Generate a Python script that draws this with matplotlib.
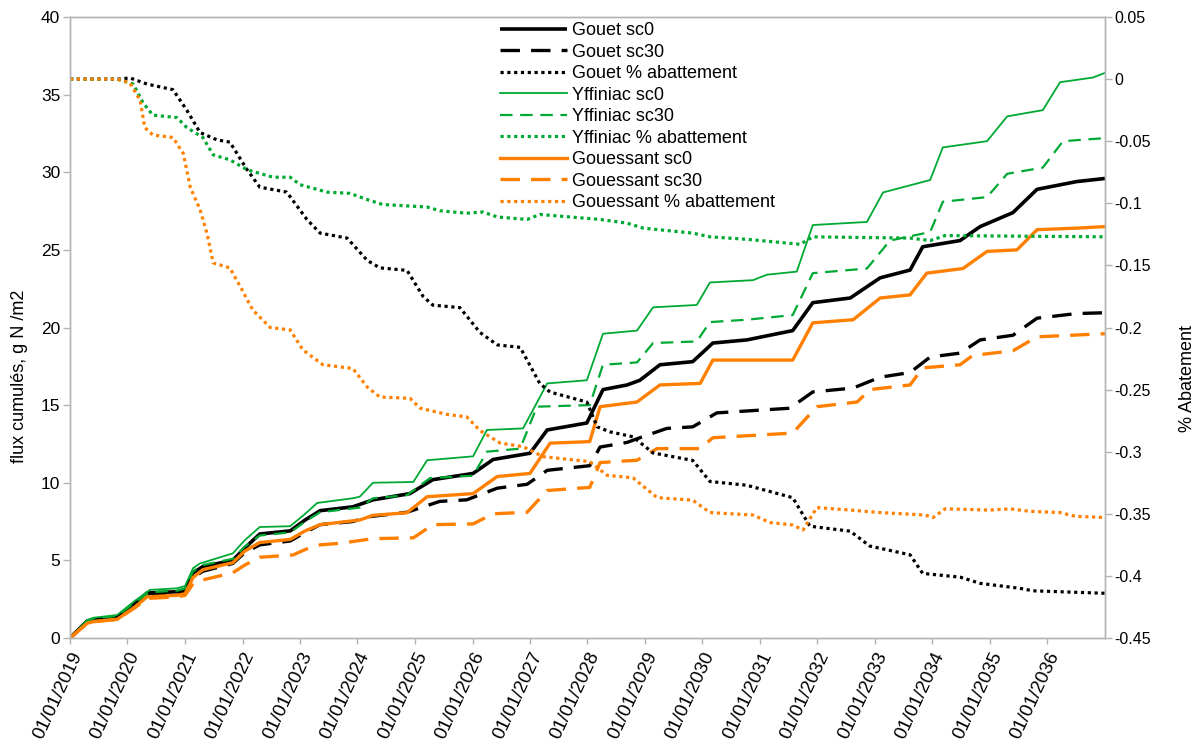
import numpy as np
import pandas as pd
import matplotlib
matplotlib.use("Agg")
import matplotlib.pyplot as plt
import matplotlib.dates as mdates
from matplotlib.ticker import FixedLocator, FuncFormatter

plt.rcParams["font.family"] = ["Liberation Sans", "DejaVu Sans"]
plt.rcParams["lines.scale_dashes"] = False

# ---- cumulative flux (g N / m2), time in decimal years ----
gouet_sc0_t = [2019.00, 2019.30, 2019.40, 2019.82, 2020.13, 2020.34, 2020.86, 2021.00, 2021.14, 2021.31, 2021.83,
               2022.04, 2022.30, 2022.83, 2023.09, 2023.35, 2023.92, 2024.27, 2024.91, 2025.31, 2026.01, 2026.36,
               2027.00, 2027.30, 2027.99, 2028.27, 2028.69, 2028.91, 2029.26, 2029.83, 2030.18, 2030.77, 2031.57,
               2031.92, 2032.57, 2033.09, 2033.61, 2033.83, 2034.48, 2034.83, 2035.40, 2035.82, 2036.51, 2037.00]
gouet_sc0_v = [0, 1.1, 1.16, 1.37, 2.2, 2.9, 2.98, 3.1, 4.2, 4.6, 5.0, 5.8, 6.7, 6.9, 7.6, 8.2, 8.45, 8.9, 9.3,
               10.2, 10.6, 11.5, 11.9, 13.4, 13.85, 16.0, 16.3, 16.6, 17.6, 17.8, 19.0, 19.2, 19.8, 21.6, 21.9,
               23.2, 23.7, 25.2, 25.6, 26.5, 27.4, 28.9, 29.4, 29.6]

gouet_sc30_t = [2019.00, 2019.30, 2019.40, 2019.82, 2020.13, 2020.34, 2020.86, 2021.00, 2021.14, 2021.31, 2021.83,
                2022.04, 2022.30, 2022.83, 2023.09, 2023.35, 2023.92, 2024.17, 2024.86, 2025.43, 2025.90, 2026.43,
                2026.95, 2027.30, 2028.04, 2028.22, 2028.69, 2028.91, 2029.38, 2029.83, 2030.25, 2031.52, 2031.92,
                2032.62, 2033.09, 2033.61, 2033.96, 2034.48, 2034.83, 2035.40, 2035.82, 2036.51, 2037.00]
gouet_sc30_v = [0, 1.05, 1.12, 1.3, 2.1, 2.8, 2.9, 3.0, 3.9, 4.3, 4.8, 5.5, 6.0, 6.25, 6.8, 7.3, 7.5, 7.8, 8.1,
                8.8, 8.9, 9.65, 9.9, 10.8, 11.1, 12.3, 12.6, 12.9, 13.5, 13.6, 14.5, 14.8, 15.85, 16.1, 16.8,
                17.1, 18.1, 18.35, 19.2, 19.5, 20.6, 20.9, 20.95]

yffiniac_sc0_t = [2019.00, 2019.30, 2019.40, 2019.82, 2020.13, 2020.39, 2020.86, 2021.00, 2021.14, 2021.26, 2021.83,
                  2022.04, 2022.30, 2022.83, 2023.09, 2023.30, 2023.92, 2024.04, 2024.27, 2024.97, 2025.21, 2026.01,
                  2026.25, 2026.88, 2027.17, 2027.30, 2027.99, 2028.27, 2028.86, 2029.14, 2029.90, 2030.13, 2030.88,
                  2031.12, 2031.64, 2031.92, 2032.86, 2033.14, 2033.96, 2034.18, 2034.95, 2035.30, 2035.92, 2036.22,
                  2036.79, 2037.00]
yffiniac_sc0_v = [0, 1.15, 1.3, 1.48, 2.4, 3.1, 3.2, 3.35, 4.5, 4.8, 5.45, 6.3, 7.15, 7.2, 8.0, 8.7, 9.0, 9.1,
                  10.0, 10.05, 11.45, 11.7, 13.4, 13.5, 15.5, 16.4, 16.6, 19.6, 19.8, 21.3, 21.45, 22.9, 23.05,
                  23.4, 23.6, 26.6, 26.8, 28.7, 29.5, 31.6, 32.0, 33.6, 34.0, 35.8, 36.1, 36.4]

yffiniac_sc30_t = [2019.00, 2019.30, 2019.40, 2019.82, 2020.13, 2020.39, 2020.86, 2021.00, 2021.14, 2021.31, 2021.83,
                   2022.04, 2022.30, 2022.83, 2023.09, 2023.35, 2024.04, 2024.27, 2024.86, 2025.26, 2026.01, 2026.25,
                   2026.83, 2027.12, 2028.04, 2028.27, 2028.86, 2029.14, 2029.90, 2030.13, 2030.77, 2031.57, 2031.92,
                   2032.86, 2033.26, 2033.96, 2034.18, 2034.95, 2035.30, 2035.92, 2036.27, 2037.00]
yffiniac_sc30_v = [0, 1.1, 1.25, 1.42, 2.3, 2.95, 3.05, 3.2, 4.3, 4.7, 5.1, 5.9, 6.6, 6.8, 7.5, 8.1, 8.4, 9.0,
                   9.2, 10.3, 10.45, 12.0, 12.2, 14.9, 15.0, 17.6, 17.75, 19.0, 19.1, 20.35, 20.5, 20.8, 23.5,
                   23.8, 25.6, 26.15, 28.1, 28.4, 29.9, 30.3, 32.0, 32.2]

gouessant_sc0_t = [2019.00, 2019.30, 2019.40, 2019.82, 2020.13, 2020.34, 2020.86, 2021.00, 2021.14, 2021.31, 2021.83,
                   2022.04, 2022.30, 2022.83, 2023.09, 2023.35, 2024.04, 2024.27, 2024.86, 2025.21, 2026.01, 2026.43,
                   2027.00, 2027.35, 2028.04, 2028.22, 2028.86, 2029.26, 2029.96, 2030.18, 2031.57, 2031.92, 2032.62,
                   2033.09, 2033.61, 2033.90, 2034.53, 2034.95, 2035.47, 2035.82, 2036.51, 2037.00]
gouessant_sc0_v = [0, 0.95, 1.05, 1.2, 2.0, 2.65, 2.75, 2.85, 3.9, 4.4, 4.85, 5.6, 6.15, 6.35, 6.9, 7.3, 7.6, 7.9,
                   8.07, 9.1, 9.3, 10.4, 10.6, 12.55, 12.65, 14.9, 15.2, 16.3, 16.4, 17.9, 17.9, 20.3, 20.5, 21.9,
                   22.1, 23.5, 23.8, 24.9, 25.0, 26.3, 26.4, 26.5]

gouessant_sc30_t = [2019.00, 2019.30, 2019.40, 2019.82, 2020.13, 2020.34, 2020.86, 2021.00, 2021.14, 2021.26, 2021.83,
                    2022.04, 2022.30, 2022.88, 2023.09, 2023.35, 2023.70, 2024.27, 2024.97, 2025.31, 2026.01, 2026.36,
                    2026.95, 2027.30, 2028.04, 2028.22, 2028.86, 2029.21, 2029.96, 2030.18, 2031.57, 2031.99, 2032.69,
                    2032.91, 2033.61, 2033.83, 2034.48, 2034.70, 2035.40, 2035.82, 2037.00]
gouessant_sc30_v = [0, 0.95, 1.05, 1.2, 1.95, 2.55, 2.65, 2.75, 3.5, 3.7, 4.2, 4.7, 5.2, 5.35, 5.7, 6.0, 6.1, 6.4,
                    6.45, 7.3, 7.35, 8.0, 8.1, 9.5, 9.7, 11.3, 11.45, 12.2, 12.2, 12.9, 13.2, 14.9, 15.2, 16.0,
                    16.3, 17.4, 17.6, 18.2, 18.5, 19.4, 19.6]

# ---- abatement fractions (secondary axis) ----
gouet_abat_t = [2019.00, 2019.87, 2020.04, 2020.34, 2020.79, 2021.03, 2021.26, 2021.56, 2021.78, 2022.08, 2022.30,
                2022.77, 2023.12, 2023.35, 2023.82, 2024.17, 2024.39, 2024.86, 2025.14, 2025.31, 2025.78, 2026.13,
                2026.43, 2026.83, 2027.17, 2027.35, 2027.99, 2028.17, 2028.39, 2028.79, 2029.14, 2029.83, 2030.13,
                2030.77, 2031.57, 2031.87, 2032.57, 2032.91, 2033.61, 2033.83, 2034.48, 2034.83, 2035.52, 2035.75,
                2037.00]
gouet_abat_v = [0, 0, 0.001, -0.004, -0.0085, -0.025, -0.043, -0.049, -0.0507, -0.073, -0.087, -0.091, -0.113,
                -0.124, -0.128, -0.146, -0.152, -0.154, -0.175, -0.182, -0.184, -0.204, -0.214, -0.216, -0.245,
                -0.252, -0.26, -0.28, -0.284, -0.288, -0.301, -0.307, -0.324, -0.327, -0.337, -0.36, -0.364,
                -0.376, -0.383, -0.398, -0.401, -0.406, -0.41, -0.412, -0.414]

yffiniac_abat_t = [2019.00, 2019.82, 2020.10, 2020.27, 2020.44, 2020.86, 2021.03, 2021.31, 2021.49, 2021.78, 2022.08,
                   2022.53, 2022.83, 2023.00, 2023.47, 2023.87, 2024.17, 2024.44, 2025.21, 2025.43, 2025.90, 2026.18,
                   2026.43, 2026.95, 2027.17, 2028.22, 2028.69, 2028.97, 2029.83, 2030.13, 2030.77, 2031.70, 2031.92,
                   2033.61, 2033.96, 2034.22, 2037.00]
yffiniac_abat_v = [0, 0, -0.004, -0.019, -0.029, -0.031, -0.039, -0.047, -0.061, -0.065, -0.073, -0.079, -0.079,
                   -0.085, -0.091, -0.092, -0.097, -0.101, -0.103, -0.106, -0.108, -0.107, -0.111, -0.113, -0.109,
                   -0.113, -0.116, -0.12, -0.124, -0.127, -0.129, -0.133, -0.127, -0.128, -0.13, -0.126, -0.127]

gouessant_abat_t = [2019.00, 2019.82, 2020.04, 2020.22, 2020.30, 2020.44, 2020.79, 2020.97, 2021.09, 2021.26, 2021.38,
                    2021.49, 2021.78, 2021.96, 2022.18, 2022.48, 2022.83, 2023.05, 2023.40, 2023.92, 2024.17, 2024.39,
                    2024.91, 2025.09, 2025.56, 2025.90, 2026.13, 2026.48, 2026.88, 2027.23, 2028.04, 2028.34, 2028.79,
                    2029.21, 2029.83, 2030.13, 2030.88, 2031.17, 2031.57, 2031.75, 2031.99, 2032.57, 2033.09, 2033.87,
                    2034.01, 2034.22, 2035.00, 2035.35, 2035.70, 2036.22, 2036.48, 2037.00]
gouessant_abat_v = [0, 0, -0.003, -0.017, -0.039, -0.045, -0.047, -0.06, -0.087, -0.105, -0.124, -0.148, -0.152,
                    -0.167, -0.186, -0.2, -0.202, -0.218, -0.23, -0.233, -0.248, -0.256, -0.257, -0.265, -0.27,
                    -0.272, -0.283, -0.293, -0.296, -0.304, -0.308, -0.319, -0.321, -0.337, -0.339, -0.349, -0.351,
                    -0.357, -0.359, -0.363, -0.345, -0.347, -0.349, -0.351, -0.353, -0.346, -0.347, -0.346, -0.348,
                    -0.349, -0.352, -0.353]

tick_years = list(range(2019, 2037))
tick_labels = [f"01/01/{y}" for y in tick_years]

GREEN = "#00a933"
ORANGE = "#ff8000"
BLACK = "#000000"
GRID = "#b3b3b3"


def to_num(years):
    out = []
    for y in years:
        yr = int(np.floor(y))
        frac = y - yr
        a = pd.Timestamp(year=yr, month=1, day=1)
        b = pd.Timestamp(year=yr + 1, month=1, day=1)
        out.append(mdates.date2num((a + (b - a) * frac).to_pydatetime()))
    return np.array(out)


fig = plt.figure(figsize=(12.04, 7.45), dpi=100)
ax = fig.add_axes([70 / 1204, 1 - 638 / 745, (1105 - 70) / 1204, (638 - 17) / 745])
ax2 = ax.twinx()

solid_black = dict(color=BLACK, lw=2.6, solid_capstyle="butt")
dash_black = dict(color=BLACK, lw=2.4, dashes=(14, 8))
dot_black = dict(color=BLACK, lw=2.3, dashes=(2.3, 2.6))
solid_green = dict(color=GREEN, lw=1.3)
dash_green = dict(color=GREEN, lw=1.6, dashes=(9, 5.5))
dot_green = dict(color=GREEN, lw=2.3, dashes=(2.3, 2.6))
solid_orange = dict(color=ORANGE, lw=2.4)
dash_orange = dict(color=ORANGE, lw=2.4, dashes=(14, 8))
dot_orange = dict(color=ORANGE, lw=2.3, dashes=(2.3, 2.6))

h = []
h += ax.plot(to_num(gouet_sc0_t), gouet_sc0_v, label="Gouet sc0", **solid_black)
h += ax.plot(to_num(gouet_sc30_t), gouet_sc30_v, label="Gouet sc30", **dash_black)
h += ax2.plot(to_num(gouet_abat_t), gouet_abat_v, label="Gouet % abattement", **dot_black)
h += ax.plot(to_num(yffiniac_sc0_t), yffiniac_sc0_v, label="Yffiniac sc0", **solid_green)
h += ax.plot(to_num(yffiniac_sc30_t), yffiniac_sc30_v, label="Yffiniac sc30", **dash_green)
h += ax2.plot(to_num(yffiniac_abat_t), yffiniac_abat_v, label="Yffiniac % abattement", **dot_green)
h += ax.plot(to_num(gouessant_sc0_t), gouessant_sc0_v, label="Gouessant sc0", **solid_orange)
h += ax.plot(to_num(gouessant_sc30_t), gouessant_sc30_v, label="Gouessant sc30", **dash_orange)
h += ax2.plot(to_num(gouessant_abat_t), gouessant_abat_v, label="Gouessant % abattement", **dot_orange)

# axes ranges and ticks
ax.set_xlim(to_num([2019.0])[0], to_num([2037.0])[0])
ax.set_ylim(0, 40)
ax.set_yticks(np.arange(0, 41, 5))
ax.set_xticks(to_num(tick_years))
ax.set_xticklabels(tick_labels, rotation=65, ha="right", va="top", rotation_mode="anchor", fontsize=13.5)
ax2.set_ylim(-0.45, 0.05)
ax2.yaxis.set_major_locator(FixedLocator(np.round(np.arange(-0.45, 0.051, 0.05), 2)))


def fmt(v, pos):
    v = round(v, 2)
    if abs(v) < 1e-9:
        return "0"
    return f"{v:g}"


ax2.yaxis.set_major_formatter(FuncFormatter(fmt))

for a in (ax, ax2):
    for s in a.spines.values():
        s.set_color(GRID)
        s.set_linewidth(1.0)
ax.tick_params(axis="y", colors=GRID, labelcolor="black", length=5, width=1, labelsize=12.5, pad=2)
ax.tick_params(axis="x", colors=GRID, labelcolor="black", length=4, width=1, pad=4)
ax2.tick_params(axis="y", colors=GRID, labelcolor="black", length=5, width=1, labelsize=11.5, pad=2)

fig.text(20 / 1204, 1 - 376 / 745, "flux cumulés, g N /m2", rotation=90, ha="center", va="center", fontsize=13)
fig.text(1187 / 1204, 1 - 379 / 745, "% Abatement", rotation=90, ha="center", va="center", fontsize=13)

leg = fig.legend(handles=h, labels=[l.get_label() for l in h], loc="upper left",
                 bbox_to_anchor=(500 / 1204, 1 - 22 / 745), frameon=False, fontsize=13,
                 handlelength=3.7, handletextpad=0.3, labelspacing=0.25, borderpad=0, borderaxespad=0)

fig.savefig("out.png", dpi=100)
